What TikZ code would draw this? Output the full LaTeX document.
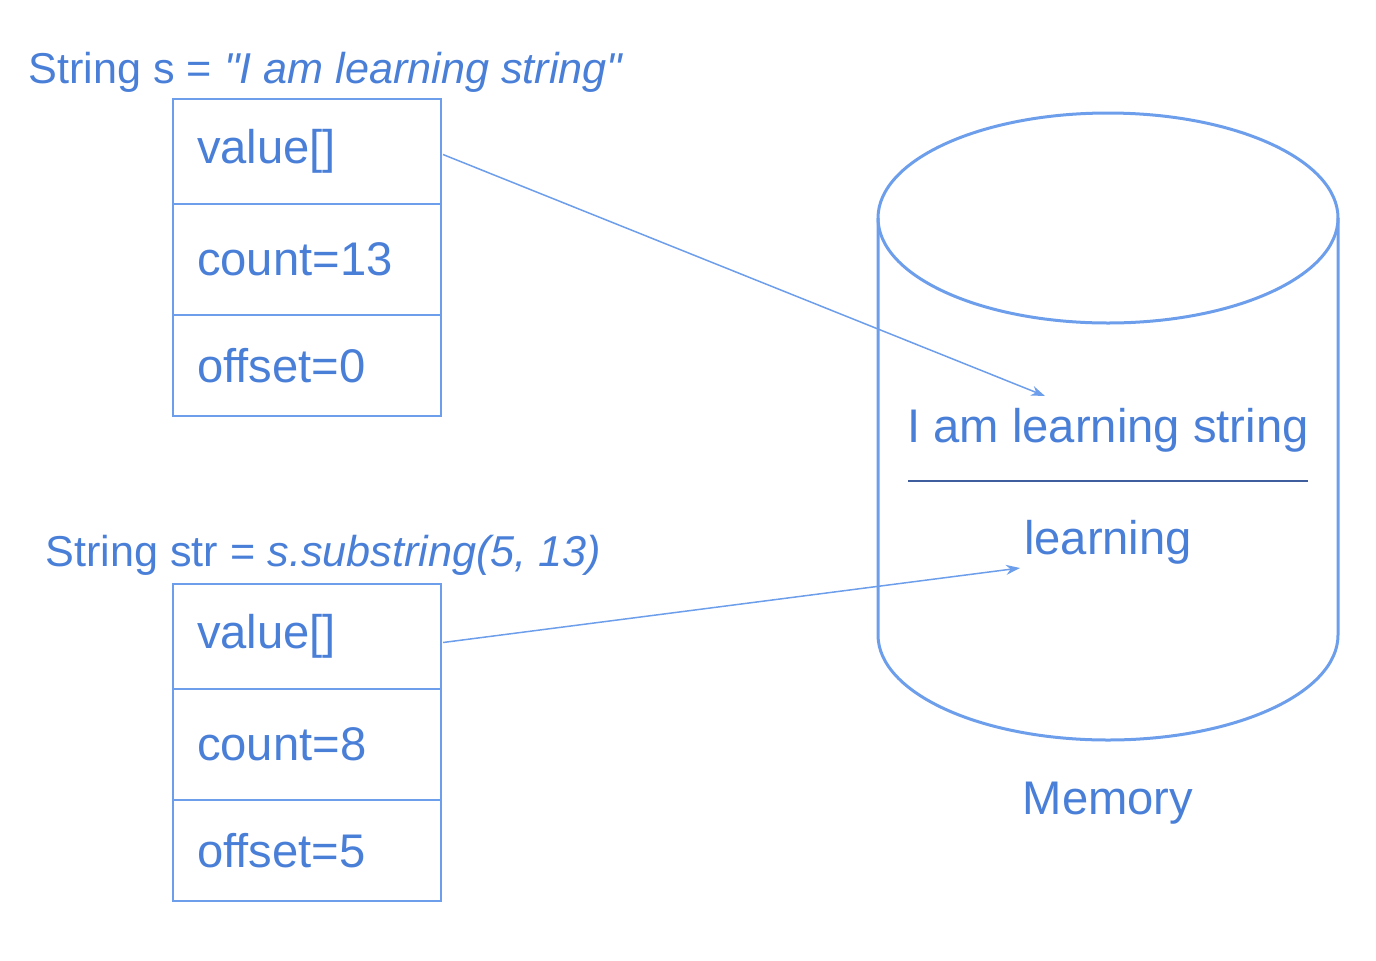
\documentclass[tikz,border=0pt]{standalone}
\usepackage{fontspec}
\setmainfont{Liberation Sans}[Ligatures=TeXOff]
\usetikzlibrary{arrows.meta}
\definecolor{txtblue}{HTML}{4A7FD8}
\definecolor{lineblue}{HTML}{6D9EEB}
\definecolor{darkline}{HTML}{3F5E9E}
\begin{document}
\begin{tikzpicture}[x=0.5pt,y=-0.5pt,
  lbl/.style={anchor=base west,inner sep=0pt,text=txtblue,font=\fontsize{21.6}{26}\selectfont},
  cell/.style={draw=lineblue,line width=1pt,rectangle,outer sep=0pt,minimum height=52.5pt,text width=110pt,inner xsep=12pt,inner ysep=0pt,align=left,text=txtblue,font=\fontsize{23.6}{28}\selectfont},
  midcell/.style={cell,minimum height=55.5pt},
  lowcell/.style={cell,minimum height=50.5pt},
  memtxt/.style={inner sep=0pt,text=txtblue,font=\fontsize{23.6}{28}\selectfont},
  conn/.style={draw=lineblue,line width=0.75pt,-{Stealth[length=7pt,width=5pt]}}]
\useasboundingbox (0,0) rectangle (1376,960);
% titles
\node[lbl] (t1) at (28,83) {String s = \textit{"I am learning string"}};
\node[lbl] (t2) at (45,566) {String str = \textit{s.substring(5, 13)}};
% box 1
\node[cell,anchor=north west] (v1) at (173,99) {value[]};
\node[midcell,anchor=north west] (c1) at (v1.south west) {count=13};
\node[lowcell,anchor=north west] (o1) at (c1.south west) {offset=0};
% box 2
\node[cell,anchor=north west] (v2) at (173,584) {value[]};
\node[midcell,anchor=north west] (c2) at (v2.south west) {count=8};
\node[lowcell,anchor=north west] (o2) at (c2.south west) {offset=5};
% cylinder
\draw[lineblue,line width=1.5pt] (1108,218) ellipse [x radius=230,y radius=105];
\draw[lineblue,line width=1.5pt] (878,218) -- (878,635) arc[start angle=180,end angle=0,x radius=230,y radius=105] -- (1338,218);
% memory contents
\node[memtxt,anchor=base] (s1) at (1108,442) {I am learning string};
\draw[darkline,line width=1pt] (908,481) -- (1308,481);
\node[memtxt,anchor=base] (s2) at (1108,554) {learning};
\node[memtxt,anchor=base] (mem) at (1108,814) {Memory};
\coordinate (a1) at (1045,396);
\coordinate (a2) at (1020,568);
\draw[conn] (v1.east) ++(2,3) -- (a1);
\draw[conn] (v2.east) ++(2,6) -- (a2);
\end{tikzpicture}
\end{document}
